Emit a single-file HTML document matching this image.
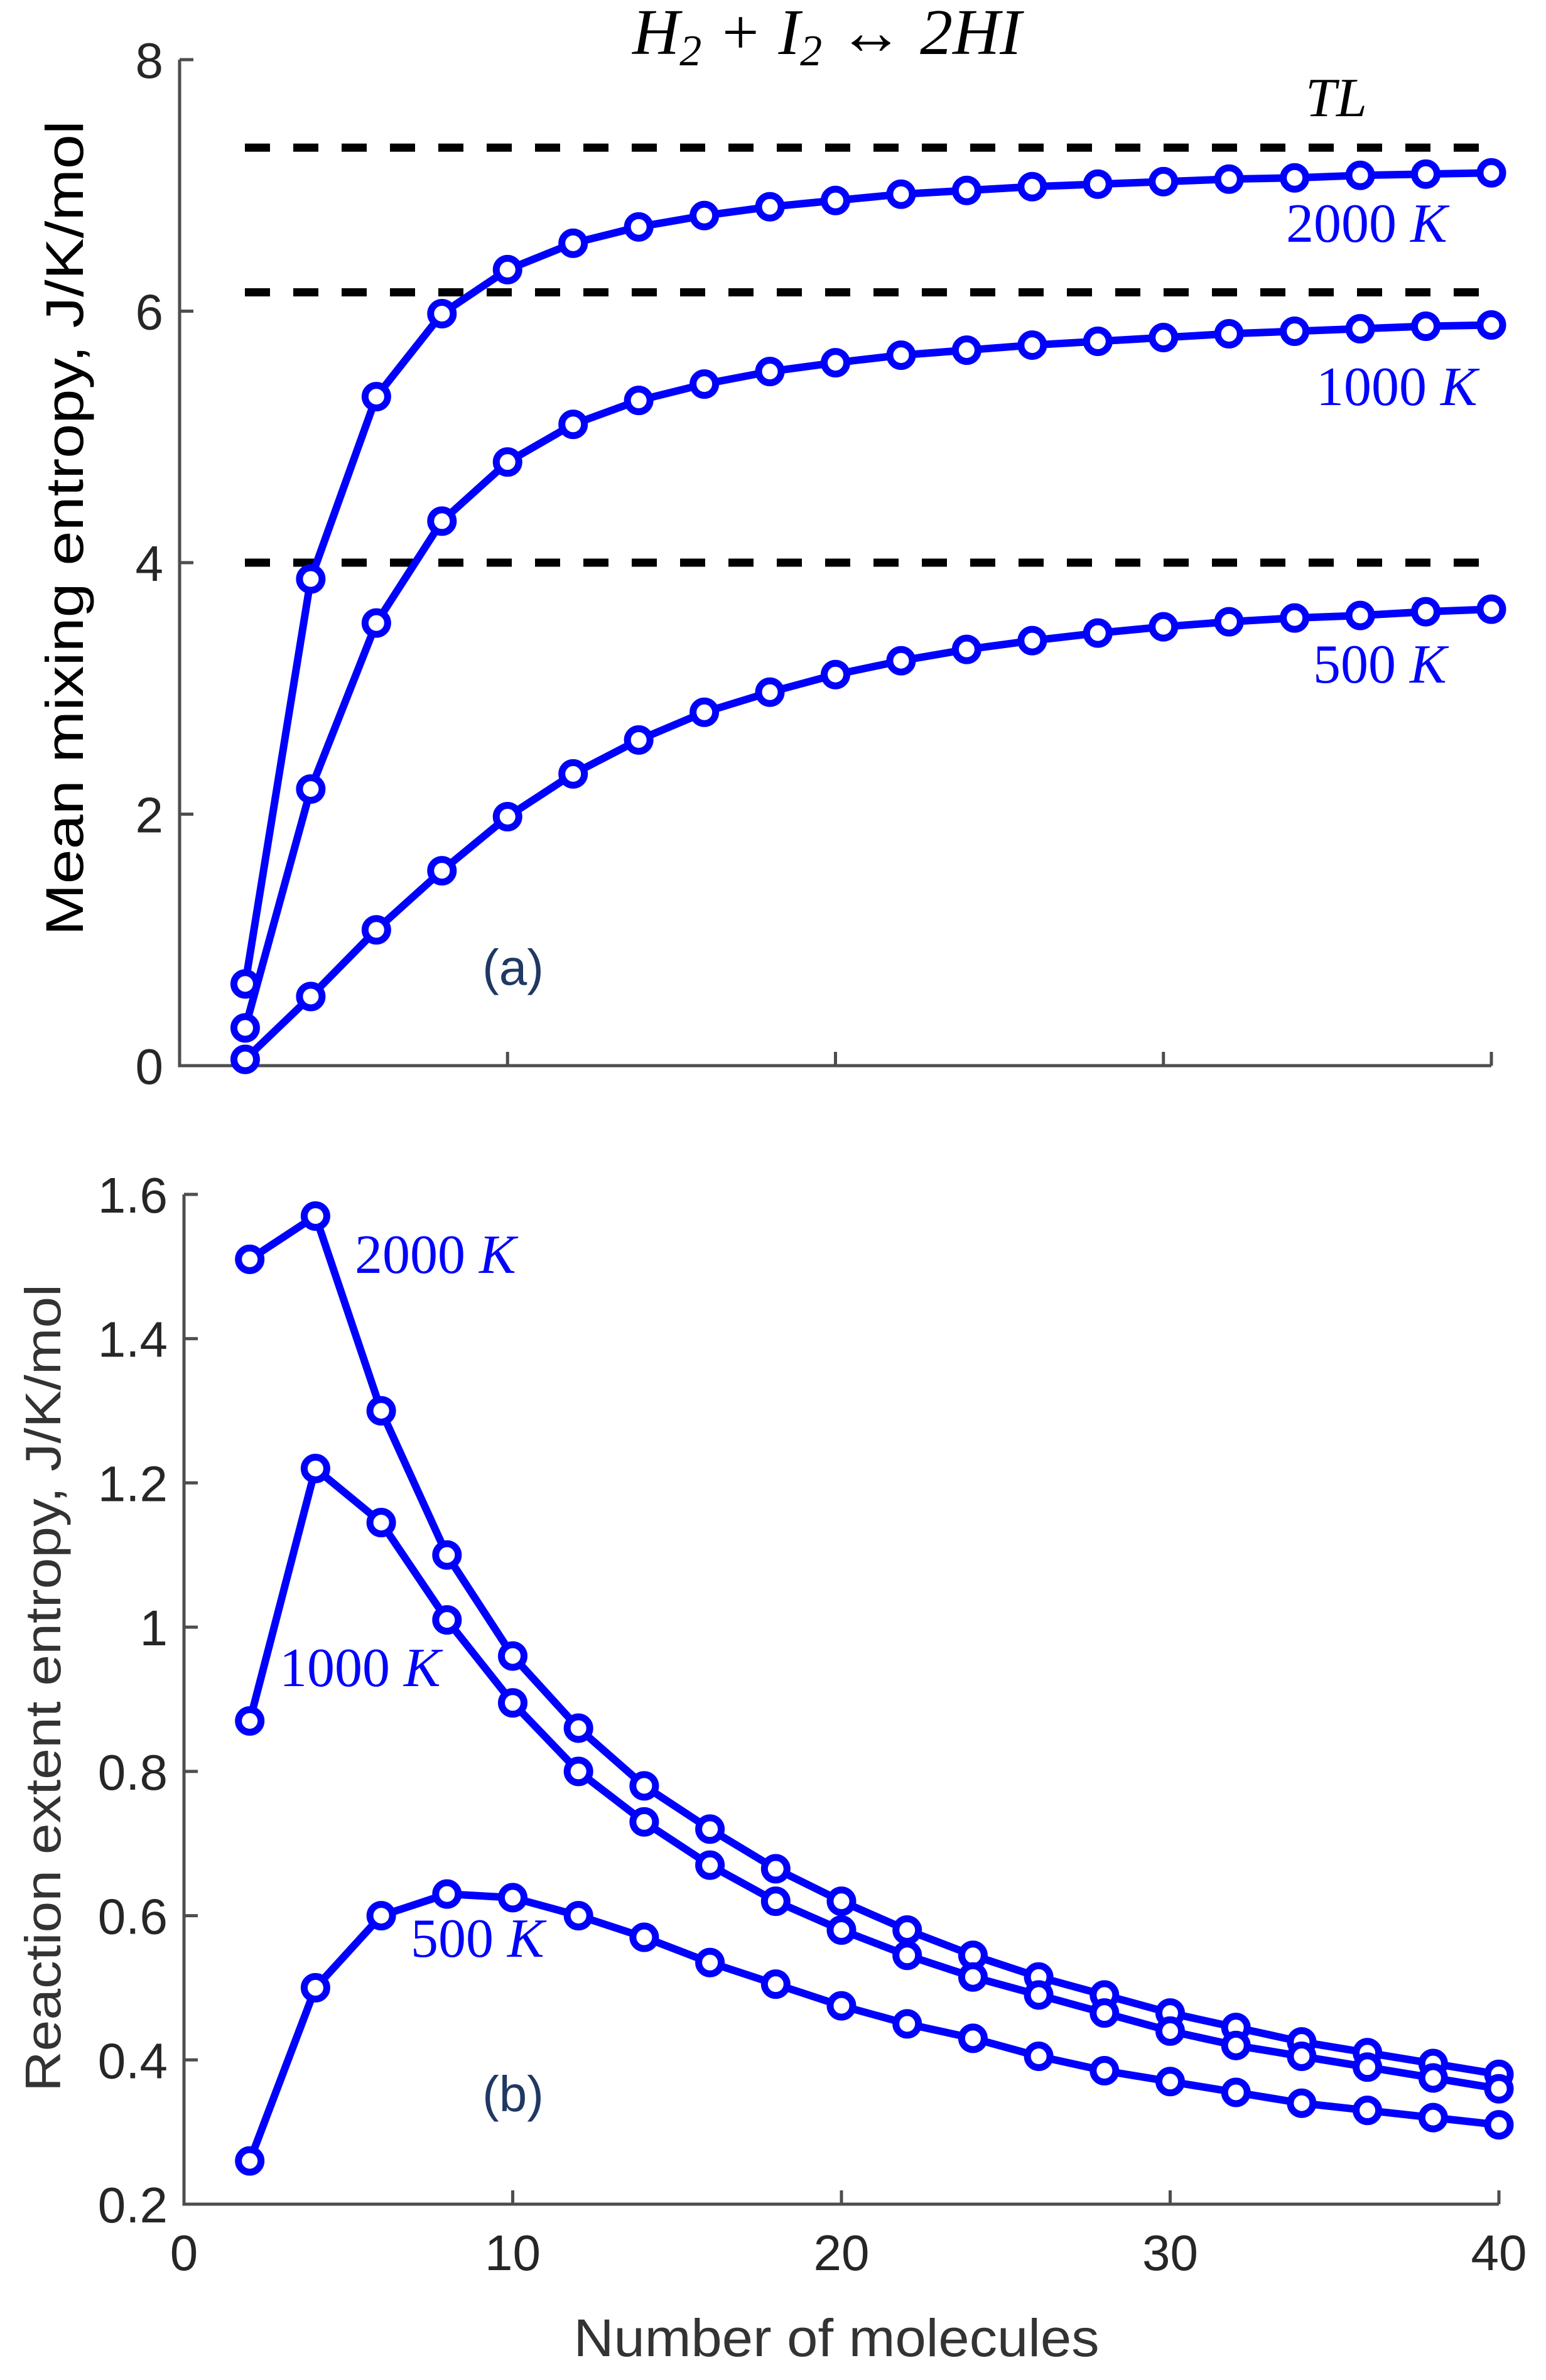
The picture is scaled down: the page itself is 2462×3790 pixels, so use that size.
<!DOCTYPE html>
<html><head><meta charset="utf-8"><style>
html,body{margin:0;padding:0;background:#fff;}
svg{display:block;}
</style></head><body>
<svg id="chart" width="2462" height="3790" viewBox="0 0 2462 3790" xmlns="http://www.w3.org/2000/svg"></svg>
<script>
const xs = [2,4,6,8,10,12,14,16,18,20,22,24,26,28,30,32,34,36,38,40];
const mix2000 = [0.65,3.87,5.32,5.98,6.33,6.54,6.67,6.76,6.83,6.88,6.93,6.96,6.99,7.01,7.03,7.05,7.06,7.08,7.09,7.10];
const mix1000 = [0.30,2.20,3.52,4.33,4.80,5.10,5.29,5.42,5.52,5.59,5.65,5.69,5.73,5.76,5.79,5.82,5.84,5.86,5.88,5.89];
const mix500 = [0.05,0.55,1.08,1.55,1.98,2.32,2.59,2.81,2.97,3.11,3.22,3.31,3.38,3.44,3.49,3.53,3.56,3.58,3.61,3.63];
const tlLevels = [7.3,6.15,4.0];
const ext2000 = [1.51,1.57,1.30,1.10,0.96,0.86,0.78,0.72,0.665,0.62,0.58,0.545,0.515,0.49,0.465,0.445,0.425,0.41,0.395,0.38];
const ext1000 = [0.87,1.22,1.145,1.01,0.895,0.80,0.73,0.67,0.62,0.58,0.545,0.515,0.49,0.465,0.44,0.42,0.405,0.39,0.375,0.36];
const ext500 = [0.26,0.50,0.60,0.63,0.625,0.60,0.57,0.535,0.505,0.475,0.45,0.43,0.405,0.385,0.37,0.355,0.34,0.33,0.32,0.31];
const yTicksTop = [0,2,4,6,8];
const yTickLabelsTop = ["0","2","4","6","8"];
const yTicksBot = [0.2,0.4,0.6,0.8,1.0,1.2,1.4,1.6];
const yTickLabelsBot = ["0.2","0.4","0.6","0.8","1","1.2","1.4","1.6"];
const xTicks = [0,10,20,30,40];
const xTickLabels = ["0","10","20","30","40"];

const svg = document.getElementById('chart');
const NS = 'http://www.w3.org/2000/svg';
function mk(tag, attrs, parent){const e=document.createElementNS(NS,tag);for(const k in attrs)e.setAttribute(k,attrs[k]);(parent||svg).appendChild(e);return e;}

const pTop = {x0:286,x1:2375,xmin:0,xmax:40,yb:1697,yt:95,ymin:0,ymax:8};
const pBot = {x0:293,x1:2387,xmin:0,xmax:40,yb:3510,yt:1902,ymin:0.2,ymax:1.6};
function sx(p,v){return p.x0+(v-p.xmin)/(p.xmax-p.xmin)*(p.x1-p.x0);}
function sy(p,v){return p.yb-(v-p.ymin)/(p.ymax-p.ymin)*(p.yb-p.yt);}

function axes(p,yt,ytl,name){
  const g=mk('g',{});
  
  
  mk('path',{d:`M${p.x0},${p.yt} V${p.yb} H${p.x1}`,stroke:'#4d4d4d','stroke-width':5,fill:'none'},g);
  yt.forEach((v,i)=>{
    const y=sy(p,v);
    mk('line',{x1:p.x0,x2:p.x0+22,y1:y,y2:y,stroke:'#4d4d4d','stroke-width':5},g);
    const t=mk('text',{x:p.x0-26,y:y+29,'text-anchor':'end','font-family':'Liberation Sans, sans-serif','font-size':80,fill:'#262626'},g);
    t.textContent=ytl[i];
    
    
  });
  xTicks.forEach((v,i)=>{
    if(v===0)return;
    const x=sx(p,v);
    mk('line',{x1:x,x2:x,y1:p.yb,y2:p.yb-22,stroke:'#4d4d4d','stroke-width':5},g);
  });
}
axes(pTop,yTicksTop,yTickLabelsTop,'top');
axes(pBot,yTicksBot,yTickLabelsBot,'bottom');

xTicks.forEach((v,i)=>{
  const t=mk('text',{x:sx(pBot,v),y:3615,'text-anchor':'middle','font-family':'Liberation Sans, sans-serif','font-size':80,fill:'#262626'});
  t.textContent=xTickLabels[i];
  
  
});

tlLevels.forEach(v=>{
  const l=mk('line',{x1:390,x2:pTop.x1,y1:sy(pTop,v),y2:sy(pTop,v),stroke:'#000','stroke-width':13,'stroke-dasharray':'40 37'});
  
  
});

function series(p,vals,name){
  const g=mk('g',{});
  
  
  const pts=xs.map((x,i)=>sx(p,x)+','+sy(p,vals[i])).join(' ');
  mk('polyline',{points:pts,fill:'none',stroke:'#0000ff','stroke-width':12,'stroke-linejoin':'round'},g);
  xs.forEach((x,i)=>{
    const c=mk('circle',{cx:sx(p,x),cy:sy(p,vals[i]),r:18,fill:'#fff',stroke:'#0000ff','stroke-width':11},g);
    
    
  });
}
series(pTop,mix2000,'mix-2000k-series');
series(pTop,mix1000,'mix-1000k-series');
series(pTop,mix500,'mix-500k-series');
series(pBot,ext2000,'ext-2000k-series');
series(pBot,ext1000,'ext-1000k-series');
series(pBot,ext500,'ext-500k-series');
</script>
<svg style="position:absolute;left:0;top:0" width="2462" height="3790">
<g font-family="Liberation Serif, serif" fill="#0000ff" font-size="88">
<text x="2048" y="385">2000 <tspan font-style="italic">K</tspan></text>
<text x="2096" y="645">1000 <tspan font-style="italic">K</tspan></text>
<text x="2091" y="1087">500 <tspan font-style="italic">K</tspan></text>
<text x="565" y="2027">2000 <tspan font-style="italic">K</tspan></text>
<text x="445" y="2685">1000 <tspan font-style="italic">K</tspan></text>
<text x="654" y="3116">500 <tspan font-style="italic">K</tspan></text>
</g>
<text x="1317" y="86" text-anchor="middle" font-family="Liberation Serif, serif" font-style="italic" font-size="104" fill="#000">H<tspan font-size="70" dy="18">2</tspan><tspan dy="-18"> + I</tspan><tspan font-size="70" dy="18">2</tspan><tspan dy="-18" font-style="normal"> ↔ </tspan>2HI</text>
<text x="2128" y="185" text-anchor="middle" font-family="Liberation Serif, serif" font-style="italic" font-size="88" fill="#000">TL</text>
<text x="817" y="1568" text-anchor="middle" font-family="Liberation Sans, sans-serif" font-size="80" fill="#1f3864">(a)</text>
<text x="817" y="3362" text-anchor="middle" font-family="Liberation Sans, sans-serif" font-size="80" fill="#1f3864">(b)</text>
<text transform="translate(132,841) rotate(-90)" text-anchor="middle" textLength="1298" lengthAdjust="spacingAndGlyphs" font-family="Liberation Sans, sans-serif" font-size="84" fill="#000">Mean mixing entropy, J/K/mol</text>
<text transform="translate(96,2688) rotate(-90)" text-anchor="middle" textLength="1286" lengthAdjust="spacingAndGlyphs" font-family="Liberation Sans, sans-serif" font-size="80" fill="#333">Reaction extent entropy, J/K/mol</text>
<text x="1332" y="3752" text-anchor="middle" textLength="837" lengthAdjust="spacingAndGlyphs" font-family="Liberation Sans, sans-serif" font-size="84" fill="#333">Number of molecules</text>
</svg>
</body></html>
